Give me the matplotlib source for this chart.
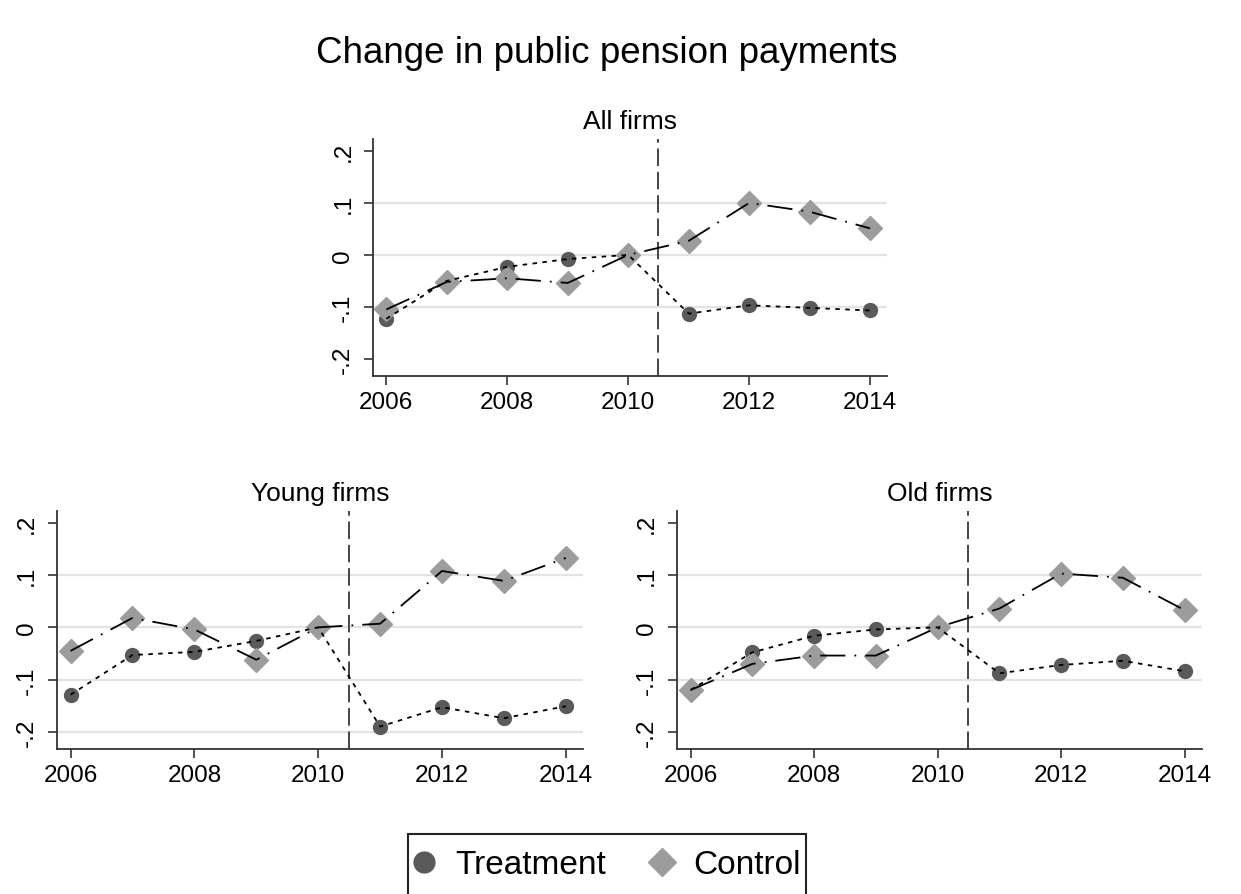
import matplotlib
matplotlib.use('Agg')
import matplotlib.pyplot as plt
from matplotlib.lines import Line2D
from matplotlib.patches import Rectangle

plt.rcParams['font.family'] = ['Liberation Sans', 'DejaVu Sans']

years = [2006, 2007, 2008, 2009, 2010, 2011, 2012, 2013, 2014]

all_treat = [-0.123, -0.050, -0.023, -0.008, 0.0, -0.113, -0.097, -0.102, -0.107]
all_ctrl = [-0.105, -0.052, -0.045, -0.054, 0.0, 0.027, 0.100, 0.083, 0.051]

young_treat = [-0.129, -0.053, -0.047, -0.026, 0.0, -0.190, -0.153, -0.174, -0.151]
young_ctrl = [-0.045, 0.018, -0.004, -0.062, 0.0, 0.007, 0.108, 0.089, 0.133]

old_treat = [-0.120, -0.048, -0.016, -0.004, 0.0, -0.088, -0.072, -0.064, -0.084]
old_ctrl = [-0.120, -0.070, -0.054, -0.054, 0.0, 0.036, 0.103, 0.095, 0.033]

yticks = [-0.2, -0.1, 0, 0.1, 0.2]
ytick_labels = ['-.2', '-.1', '0', '.1', '.2']
xticks = [2006, 2008, 2010, 2012, 2014]

TREAT_C = '#5a5a5a'
CTRL_C = '#9c9c9c'

fig = plt.figure(figsize=(12.41, 8.95), dpi=100)


def panel(rect, title, treat, ctrl, grid):
    ax = fig.add_axes(rect)
    for g in grid:
        ax.axhline(g, color='#e3e3e3', lw=1.6, zorder=0)
    ax.axvline(2010.5, color='#444444', lw=1.4, dashes=(9, 3), zorder=1)
    ax.plot(years, treat, ls='none', marker='o', ms=10, color=TREAT_C, mec=TREAT_C, zorder=2)
    ax.plot(years, ctrl, ls='none', marker='D', ms=12, color=CTRL_C, mec=CTRL_C, zorder=2)
    ax.plot(years, treat, color='black', lw=1.3, dashes=(2.5, 3), zorder=3)
    ax.plot(years, ctrl, color='black', lw=1.3, dashes=(14, 5, 1, 5), zorder=3)
    ax.set_xlim(2005.78, 2014.28)
    ax.set_ylim(-0.233, 0.223)
    ax.set_yticks(yticks)
    ax.set_yticklabels(ytick_labels, rotation=90, va='center')
    ax.set_xticks(xticks)
    ax.tick_params(labelsize=17.5, length=6.5, width=1.2, color='#333333')
    ax.tick_params(axis='x', pad=4)
    ax.tick_params(axis='y', pad=7)
    for s in ['top', 'right']:
        ax.spines[s].set_visible(False)
    for s in ['left', 'bottom']:
        ax.spines[s].set_color('#333333')
        ax.spines[s].set_linewidth(1.3)
    ax.set_title(title, fontsize=19, pad=8)
    return ax


panel([0.3006, 0.5788, 0.4142, 0.2648], 'All firms', all_treat, all_ctrl, [0.1, 0, -0.1])
panel([0.0459, 0.1620, 0.4240, 0.2660], 'Young firms', young_treat, young_ctrl, [0.1, 0, -0.1, -0.2])
panel([0.5455, 0.1620, 0.4230, 0.2660], 'Old firms', old_treat, old_ctrl, [0.1, 0, -0.1])

fig.text(0.489, 0.940, 'Change in public pension payments', fontsize=26.5, ha='center', va='center')

handles = [
    Line2D([], [], ls='none', marker='o', ms=15, color=TREAT_C, label='Treatment'),
    Line2D([], [], ls='none', marker='D', ms=14, color=CTRL_C, label='Control'),
]
leg = fig.legend(handles=handles, loc='center', bbox_to_anchor=(0.490, (895 - 866) / 895), ncol=2,
                 fontsize=24, frameon=False, borderpad=0.26, borderaxespad=0,
                 handletextpad=0.68, columnspacing=1.43, handlelength=0.5)

# legend box runs off the bottom edge as in the original
fig.patches.append(Rectangle((408 / 1241, -0.02), (806 - 408) / 1241, 0.02 + (895 - 835) / 895,
                             transform=fig.transFigure, fill=False, edgecolor='#222222', lw=1.5))

fig.savefig('out.png', dpi=100)
